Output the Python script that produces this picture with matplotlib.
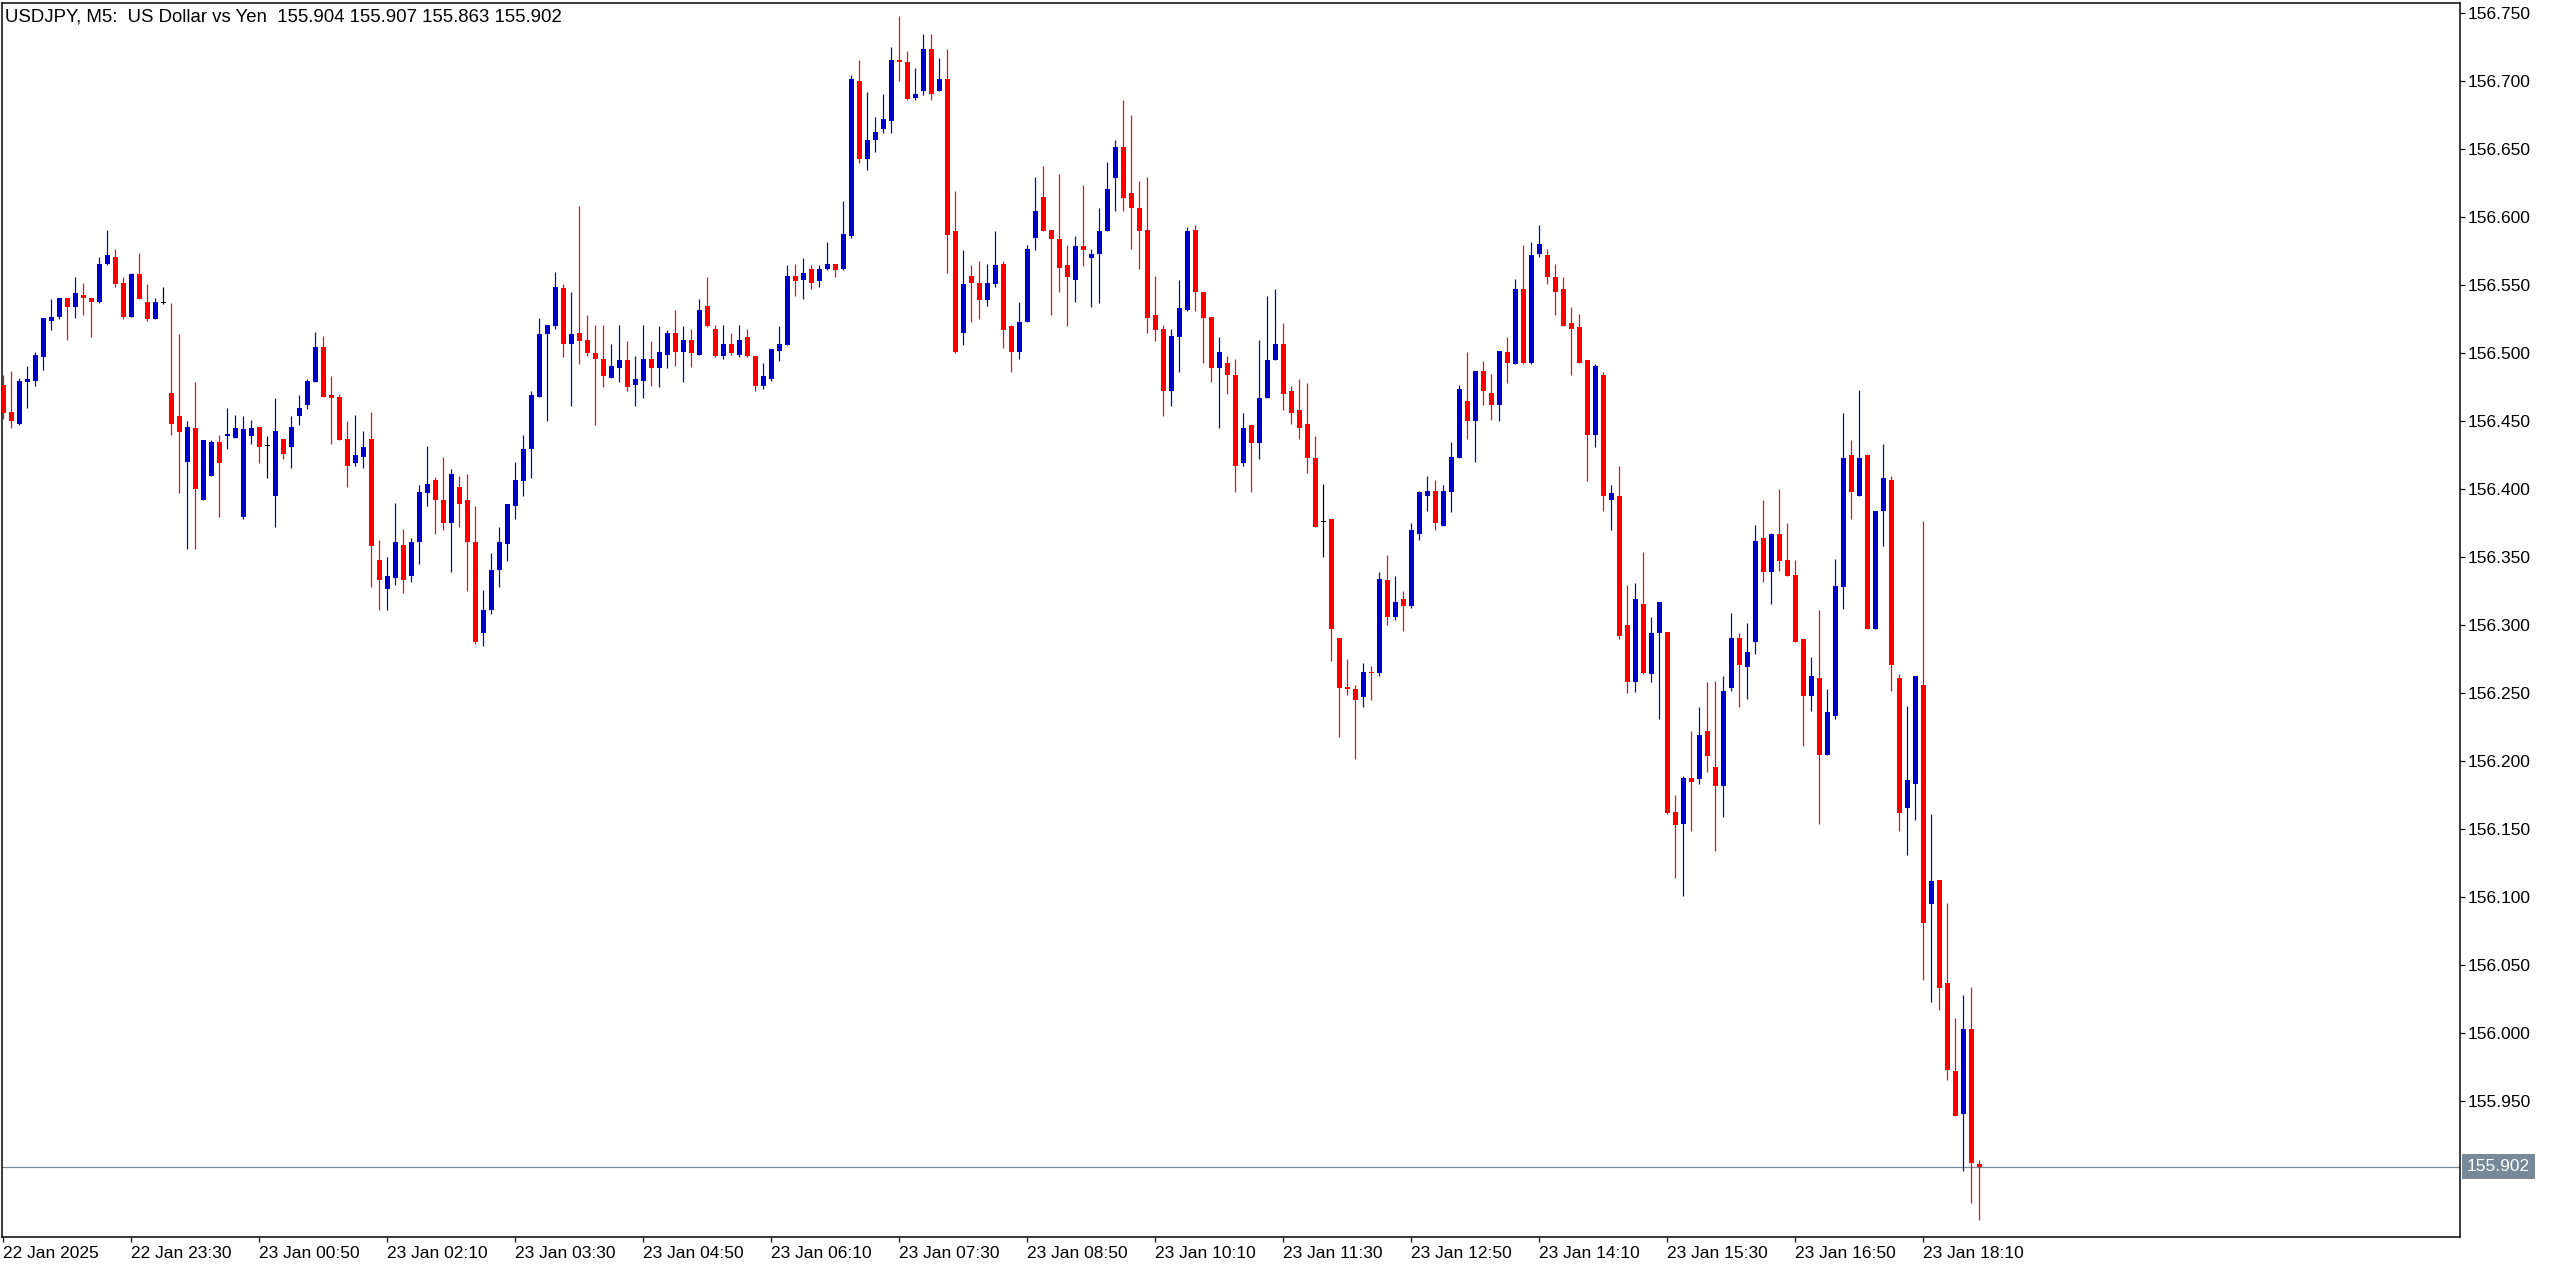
import numpy as np
import matplotlib
matplotlib.use("Agg")
import matplotlib.pyplot as plt
from matplotlib.transforms import blended_transform_factory

W, H = 2556, 1270
FONT = "Liberation Sans"
BULL = "#0000cd"
BEAR = "#ff0000"
DOJI = "#000000"
LAST_COLOR = "#778899"

symbol_text = "USDJPY, M5:  US Dollar vs Yen  155.904 155.907 155.863 155.902"
last_price = 155.902

# 5 minute bars, first bar 22 Jan 22:10
opens = [
    156.477, 156.457, 156.448, 156.479, 156.480, 156.497, 156.524, 156.527, 156.541, 156.534,
    156.543, 156.541, 156.538, 156.566, 156.571, 156.552, 156.527, 156.558, 156.538, 156.525,
    156.537, 156.471, 156.454, 156.420, 156.445, 156.392, 156.410, 156.435, 156.439, 156.438,
    156.380, 156.439, 156.446, 156.432, 156.395, 156.437, 156.431, 156.454, 156.462, 156.479,
    156.505, 156.469, 156.468, 156.437, 156.419, 156.424, 156.437, 156.348, 156.327, 156.335,
    156.359, 156.336, 156.361, 156.397, 156.407, 156.392, 156.375, 156.402, 156.392, 156.361,
    156.294, 156.311, 156.341, 156.360, 156.388, 156.406, 156.430, 156.468, 156.514, 156.520,
    156.548, 156.507, 156.515, 156.510, 156.500, 156.496, 156.482, 156.489, 156.495, 156.477,
    156.480, 156.496, 156.489, 156.499, 156.515, 156.501, 156.510, 156.499, 156.535, 156.518,
    156.498, 156.507, 156.499, 156.512, 156.498, 156.476, 156.481, 156.502, 156.506, 156.557,
    156.554, 156.562, 156.553, 156.562, 156.566, 156.562, 156.586, 156.700, 156.643, 156.657,
    156.665, 156.671, 156.716, 156.714, 156.688, 156.693, 156.724, 156.693, 156.702, 156.590,
    156.515, 156.557, 156.552, 156.539, 156.551, 156.566, 156.520, 156.501, 156.523, 156.585,
    156.615, 156.591, 156.584, 156.565, 156.554, 156.579, 156.570, 156.573, 156.590, 156.629,
    156.652, 156.618, 156.607, 156.591, 156.528, 156.518, 156.472, 156.512, 156.532, 156.591,
    156.545, 156.527, 156.489, 156.493, 156.484, 156.419, 156.447, 156.434, 156.467, 156.495,
    156.507, 156.472, 156.458, 156.448, 156.423, 156.376, 156.378, 156.291, 156.255, 156.253,
    156.247, 156.266, 156.265, 156.333, 156.306, 156.319, 156.314, 156.367, 156.395, 156.399,
    156.373, 156.398, 156.423, 156.465, 156.450, 156.487, 156.471, 156.462, 156.501, 156.492,
    156.547, 156.493, 156.573, 156.572, 156.556, 156.547, 156.522, 156.519, 156.495, 156.440,
    156.484, 156.392, 156.395, 156.300, 156.258, 156.316, 156.264, 156.294, 156.295, 156.163,
    156.154, 156.188, 156.187, 156.222, 156.196, 156.182, 156.254, 156.291, 156.269, 156.288,
    156.364, 156.339, 156.367, 156.348, 156.337, 156.290, 156.248, 156.261, 156.205, 156.233,
    156.328, 156.425, 156.395, 156.425, 156.297, 156.384, 156.407, 156.261, 156.166, 156.183,
    156.256, 156.095, 156.113, 156.037, 155.972, 155.941, 156.003, 155.904,
]

highs = [
    156.484, 156.487, 156.482, 156.491, 156.501, 156.526, 156.540, 156.541, 156.541, 156.556,
    156.552, 156.541, 156.571, 156.591, 156.577, 156.556, 156.559, 156.574, 156.551, 156.541,
    156.549, 156.537, 156.514, 156.450, 156.479, 156.436, 156.436, 156.440, 156.460, 156.455,
    156.454, 156.451, 156.446, 156.439, 156.467, 156.437, 156.454, 156.469, 156.481, 156.516,
    156.513, 156.483, 156.470, 156.450, 156.455, 156.443, 156.457, 156.363, 156.350, 156.390,
    156.371, 156.364, 156.403, 156.432, 156.409, 156.424, 156.415, 156.410, 156.411, 156.388,
    156.326, 156.353, 156.372, 156.389, 156.420, 156.440, 156.472, 156.526, 156.521, 156.560,
    156.551, 156.545, 156.608, 156.528, 156.521, 156.521, 156.507, 156.521, 156.509, 156.498,
    156.521, 156.509, 156.520, 156.517, 156.532, 156.520, 156.518, 156.540, 156.556, 156.521,
    156.521, 156.515, 156.521, 156.518, 156.498, 156.493, 156.503, 156.520, 156.565, 156.566,
    156.570, 156.565, 156.565, 156.582, 156.566, 156.612, 156.705, 156.716, 156.692, 156.674,
    156.691, 156.725, 156.748, 156.722, 156.710, 156.735, 156.735, 156.717, 156.724, 156.619,
    156.576, 156.565, 156.568, 156.566, 156.590, 156.568, 156.521, 156.538, 156.580, 156.630,
    156.638, 156.591, 156.632, 156.580, 156.586, 156.624, 156.577, 156.607, 156.641, 156.657,
    156.686, 156.675, 156.627, 156.630, 156.557, 156.521, 156.518, 156.554, 156.593, 156.594,
    156.545, 156.527, 156.512, 156.498, 156.496, 156.456, 156.447, 156.510, 156.542, 156.547,
    156.522, 156.476, 156.481, 156.478, 156.439, 156.404, 156.378, 156.291, 156.275, 156.256,
    156.272, 156.270, 156.339, 156.352, 156.336, 156.325, 156.375, 156.399, 156.410, 156.407,
    156.403, 156.435, 156.477, 156.501, 156.487, 156.494, 156.485, 156.502, 156.512, 156.555,
    156.580, 156.582, 156.594, 156.577, 156.566, 156.556, 156.534, 156.529, 156.495, 156.492,
    156.486, 156.403, 156.417, 156.330, 156.331, 156.354, 156.306, 156.317, 156.295, 156.175,
    156.189, 156.222, 156.240, 156.258, 156.259, 156.263, 156.309, 156.294, 156.302, 156.374,
    156.392, 156.368, 156.400, 156.375, 156.348, 156.290, 156.277, 156.311, 156.253, 156.349,
    156.456, 156.436, 156.473, 156.426, 156.384, 156.433, 156.410, 156.264, 156.241, 156.263,
    156.377, 156.161, 156.113, 156.096, 156.011, 156.028, 156.034, 155.907,
]

lows = [
    156.452, 156.445, 156.447, 156.460, 156.476, 156.488, 156.517, 156.525, 156.510, 156.526,
    156.528, 156.512, 156.537, 156.565, 156.549, 156.525, 156.527, 156.540, 156.524, 156.525,
    156.536, 156.440, 156.397, 156.356, 156.356, 156.392, 156.410, 156.380, 156.430, 156.438,
    156.378, 156.433, 156.419, 156.408, 156.372, 156.422, 156.416, 156.447, 156.459, 156.479,
    156.468, 156.433, 156.436, 156.402, 156.417, 156.416, 156.328, 156.311, 156.311, 156.330,
    156.324, 156.332, 156.345, 156.388, 156.367, 156.370, 156.339, 156.372, 156.325, 156.286,
    156.285, 156.308, 156.328, 156.347, 156.378, 156.395, 156.408, 156.468, 156.450, 156.518,
    156.497, 156.461, 156.492, 156.498, 156.447, 156.475, 156.482, 156.479, 156.472, 156.461,
    156.467, 156.476, 156.475, 156.489, 156.491, 156.479, 156.490, 156.499, 156.519, 156.497,
    156.496, 156.499, 156.497, 156.497, 156.472, 156.474, 156.480, 156.494, 156.506, 156.542,
    156.540, 156.547, 156.549, 156.561, 156.556, 156.561, 156.585, 156.640, 156.635, 156.648,
    156.662, 156.662, 156.700, 156.686, 156.686, 156.690, 156.686, 156.693, 156.559, 156.500,
    156.506, 156.523, 156.525, 156.535, 156.549, 156.504, 156.486, 156.496, 156.523, 156.576,
    156.590, 156.528, 156.545, 156.520, 156.538, 156.564, 156.534, 156.537, 156.590, 156.605,
    156.605, 156.577, 156.562, 156.515, 156.509, 156.454, 156.461, 156.486, 156.531, 156.531,
    156.493, 156.479, 156.445, 156.470, 156.398, 156.417, 156.398, 156.422, 156.467, 156.495,
    156.458, 156.448, 156.437, 156.412, 156.372, 156.350, 156.274, 156.218, 156.249, 156.202,
    156.240, 156.245, 156.263, 156.300, 156.304, 156.296, 156.313, 156.363, 156.384, 156.370,
    156.373, 156.383, 156.423, 156.437, 156.420, 156.462, 156.451, 156.450, 156.478, 156.492,
    156.492, 156.492, 156.571, 156.551, 156.528, 156.520, 156.484, 156.493, 156.406, 156.431,
    156.384, 156.370, 156.290, 156.250, 156.251, 156.264, 156.258, 156.231, 156.161, 156.114,
    156.101, 156.149, 156.183, 156.192, 156.134, 156.159, 156.252, 156.240, 156.246, 156.279,
    156.332, 156.316, 156.340, 156.336, 156.288, 156.211, 156.237, 156.154, 156.205, 156.231,
    156.312, 156.378, 156.395, 156.297, 156.297, 156.358, 156.252, 156.149, 156.131, 156.157,
    156.039, 156.023, 156.017, 155.966, 155.939, 155.899, 155.875, 155.863,
]

closes = [
    156.456, 156.450, 156.480, 156.481, 156.499, 156.526, 156.527, 156.541, 156.534, 156.544,
    156.541, 156.538, 156.566, 156.572, 156.551, 156.527, 156.558, 156.540, 156.525, 156.538,
    156.537, 156.448, 156.442, 156.446, 156.400, 156.436, 156.435, 156.419, 156.441, 156.445,
    156.444, 156.445, 156.431, 156.432, 156.443, 156.426, 156.446, 156.460, 156.480, 156.505,
    156.468, 156.467, 156.436, 156.417, 156.425, 156.431, 156.358, 156.333, 156.336, 156.361,
    156.333, 156.361, 156.398, 156.404, 156.392, 156.375, 156.411, 156.389, 156.361, 156.288,
    156.311, 156.341, 156.361, 156.389, 156.407, 156.430, 156.469, 156.514, 156.521, 156.549,
    156.507, 156.514, 156.509, 156.500, 156.496, 156.483, 156.491, 156.495, 156.475, 156.481,
    156.496, 156.489, 156.501, 156.515, 156.501, 156.510, 156.500, 156.532, 156.520, 156.498,
    156.507, 156.500, 156.510, 156.498, 156.476, 156.483, 156.503, 156.507, 156.557, 156.553,
    156.559, 156.552, 156.562, 156.566, 156.561, 156.588, 156.702, 156.643, 156.657, 156.663,
    156.672, 156.716, 156.714, 156.687, 156.691, 156.724, 156.691, 156.702, 156.587, 156.501,
    156.551, 156.552, 156.539, 156.552, 156.565, 156.517, 156.501, 156.523, 156.577, 156.605,
    156.590, 156.584, 156.563, 156.556, 156.579, 156.576, 156.573, 156.590, 156.621, 156.652,
    156.614, 156.607, 156.590, 156.526, 156.517, 156.472, 156.513, 156.533, 156.590, 156.545,
    156.526, 156.489, 156.501, 156.484, 156.417, 156.445, 156.434, 156.467, 156.495, 156.507,
    156.470, 156.456, 156.445, 156.423, 156.372, 156.376, 156.297, 156.254, 156.253, 156.245,
    156.266, 156.265, 156.334, 156.306, 156.317, 156.314, 156.370, 156.398, 156.399, 156.375,
    156.399, 156.424, 156.474, 156.450, 156.487, 156.472, 156.462, 156.502, 156.493, 156.547,
    156.493, 156.572, 156.580, 156.556, 156.545, 156.520, 156.518, 156.493, 156.440, 156.491,
    156.395, 156.397, 156.292, 156.258, 156.319, 156.265, 156.294, 156.317, 156.162, 156.153,
    156.188, 156.185, 156.219, 156.204, 156.182, 156.252, 156.291, 156.271, 156.280, 156.362,
    156.339, 156.367, 156.347, 156.336, 156.288, 156.248, 156.263, 156.205, 156.236, 156.329,
    156.423, 156.398, 156.423, 156.297, 156.384, 156.408, 156.271, 156.162, 156.186, 156.263,
    156.081, 156.112, 156.033, 155.973, 155.939, 156.003, 155.905, 155.902,
]

# time axis labels, every 16 bars
x_tick_bars = [0, 16, 32, 48, 64, 80, 96, 112, 128, 144, 160, 176, 192, 208, 224, 240]
x_tick_labels = [
    "22 Jan 2025", "22 Jan 23:30", "23 Jan 00:50", "23 Jan 02:10",
    "23 Jan 03:30", "23 Jan 04:50", "23 Jan 06:10", "23 Jan 07:30",
    "23 Jan 08:50", "23 Jan 10:10", "23 Jan 11:30", "23 Jan 12:50",
    "23 Jan 14:10", "23 Jan 15:30", "23 Jan 16:50", "23 Jan 18:10",
]
y_ticks = [155.95 + 0.05 * k for k in range(17)]

# pixel geometry of the price pane
PANE_LEFT, PANE_RIGHT, PANE_TOP, PANE_BOTTOM = 2, 2460, 3, 1237
BAR_PX = 8.0
FIRST_BAR_PX = 3.3
PX_PER_UNIT = 1360.0
REF_PRICE, REF_PX = 156.750, 13.3


def px(v):
    return v * 72.0 / 100.0


o = np.array(opens)
h = np.array(highs)
l = np.array(lows)
c = np.array(closes)
x = np.arange(len(o))

colors = np.where(c > o, BULL, np.where(c < o, BEAR, DOJI))

fig = plt.figure(figsize=(W / 100, H / 100), dpi=100)
fig.patch.set_facecolor("white")
ax = fig.add_axes([PANE_LEFT / W, (H - PANE_BOTTOM) / H,
                   (PANE_RIGHT - PANE_LEFT) / W, (PANE_BOTTOM - PANE_TOP) / H])

x_lo = (PANE_LEFT - FIRST_BAR_PX) / BAR_PX
x_hi = (PANE_RIGHT - FIRST_BAR_PX) / BAR_PX
y_hi = REF_PRICE + (REF_PX - PANE_TOP) / PX_PER_UNIT
y_lo = REF_PRICE - (PANE_BOTTOM - REF_PX) / PX_PER_UNIT
ax.set_xlim(x_lo, x_hi)
ax.set_ylim(y_lo, y_hi)

# wicks then bodies
ax.vlines(x, l, h, colors=colors, linewidth=px(1.2), zorder=2)
body_lo = np.minimum(o, c)
body_h = np.maximum(np.abs(c - o), 1.2 / PX_PER_UNIT)
ax.bar(x, body_h, bottom=body_lo, width=5.0 / BAR_PX, color=colors,
       linewidth=0, zorder=3)

# last price line
ax.axhline(last_price, color=LAST_COLOR, linewidth=px(1.2), zorder=1)

for s in ax.spines.values():
    s.set_color("black")
    s.set_linewidth(px(1.5))

ax.yaxis.tick_right()
ax.set_yticks(y_ticks)
ax.set_yticklabels([f"{v:.3f}" for v in y_ticks])
ax.set_xticks(x_tick_bars)
ax.set_xticklabels(x_tick_labels)
ax.tick_params(axis="y", direction="out", length=px(5), width=px(1.2),
               pad=px(3), labelsize=12.5, colors="black")
ax.tick_params(axis="x", direction="out", length=px(5), width=px(1.2),
               pad=px(4), labelsize=12.5, colors="black")
for lab in ax.get_xticklabels():
    lab.set_horizontalalignment("left")
    lab.set_fontfamily(FONT)
for lab in ax.get_yticklabels():
    lab.set_fontfamily(FONT)

# price box on the right scale
tr = blended_transform_factory(ax.transAxes, ax.transData)
ax.text(1.0 + px(7) / 72 * 100 / (PANE_RIGHT - PANE_LEFT), last_price, f"{last_price:.3f}",
        transform=tr, ha="left", va="center", color="white", fontsize=12.5,
        family=FONT, zorder=5, clip_on=False,
        bbox=dict(boxstyle="square,pad=0.3", facecolor=LAST_COLOR, edgecolor="none"))

# symbol caption
fig.text(5 / W, 1 - 17 / H, symbol_text, ha="left", va="center",
         fontsize=13.4, family=FONT, color="black")

fig.savefig("out.png", dpi=100, facecolor="white")
